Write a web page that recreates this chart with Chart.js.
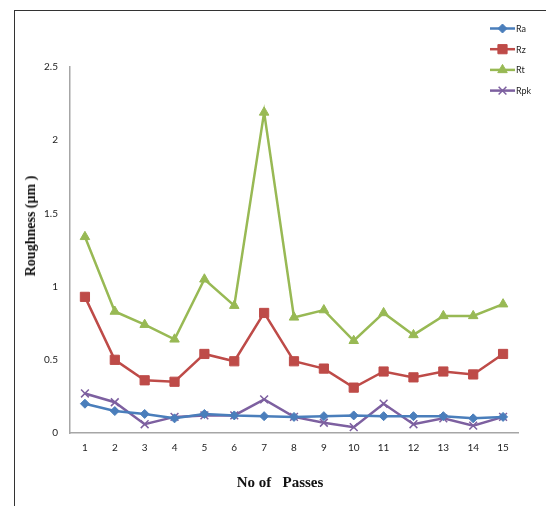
<!DOCTYPE html>
<html lang="en">
<head>
    <meta charset="UTF-8">
    <title>Roughness vs passes</title>
    <script src="https://cdn.jsdelivr.net/npm/chart.js@4.4.1/dist/chart.umd.min.js"></script>
    <style>
        body { margin: 0; background: #fff; }
        #wrap { position: relative; width: 546px; height: 506px; overflow: hidden; }
        #frame { position: absolute; left: 14px; top: 10px; width: 540px; height: 500px;
                 border-left: 1.5px solid #333; border-top: 1.5px solid #333; }
        #myCanvas { position: absolute; left: 0; top: 0; }
        .ttl { position: absolute; font-family: "Liberation Serif", serif; font-weight: bold;
               color: #111; white-space: pre; transform: translate(-50%, -50%); }
        #ytitle { left: 31px; top: 226px; font-size: 14px; transform: translate(-50%, -50%) rotate(-90deg); }
        #xtitle { left: 280px; top: 482px; font-size: 15px; }
    </style>
</head>
<body>
<div id="wrap">
    <div id="frame"></div>
    <canvas id="myCanvas" width="546" height="506"></canvas>
    <div class="ttl" id="ytitle">Roughness (µm )</div>
    <div class="ttl" id="xtitle">No of   Passes</div>
</div>
<script>
var passes = ['1','2','3','4','5','6','7','8','9','10','11','12','13','14','15'];
var ra  = [0.20, 0.15, 0.13, 0.10, 0.13, 0.12, 0.115, 0.11, 0.115, 0.12, 0.115, 0.115, 0.115, 0.10, 0.11];
var rz  = [0.93, 0.50, 0.36, 0.35, 0.54, 0.49, 0.82, 0.49, 0.44, 0.31, 0.42, 0.38, 0.42, 0.40, 0.54];
var rt  = [1.34, 0.83, 0.74, 0.64, 1.05, 0.87, 2.19, 0.79, 0.84, 0.63, 0.82, 0.67, 0.80, 0.80, 0.88];
var rpk = [0.27, 0.21, 0.06, 0.11, 0.12, 0.12, 0.23, 0.11, 0.07, 0.04, 0.20, 0.06, 0.10, 0.05, 0.11];
var yTicks = [0, 0.5, 1, 1.5, 2, 2.5];

function serie(label, data, color, style, radius) {
    return {
        label: label,
        data: data,
        borderColor: color,
        backgroundColor: color,
        borderWidth: 2.5,
        pointStyle: style,
        pointRadius: radius,
        pointHoverRadius: radius,
        pointBorderWidth: style === 'crossRot' ? 1.5 : 1,
        pointBorderColor: color,
        pointBackgroundColor: color,
        tension: 0
    };
}

// legend stacked in the top right corner, drawn with the datasets' own styles
var sideLegend = {
    id: 'sideLegend',
    afterDraw: function(chart) {
        var ctx = chart.ctx;
        chart.data.datasets.forEach(function(ds, i) {
            var y = 28.5 + i * 20.7;
            ctx.save();
            ctx.strokeStyle = ds.borderColor;
            ctx.fillStyle = ds.backgroundColor;
            ctx.lineWidth = 2.5;
            ctx.beginPath();
            ctx.moveTo(490, y);
            ctx.lineTo(515, y);
            ctx.stroke();
            ctx.lineWidth = ds.pointBorderWidth;
            Chart.helpers.drawPoint(ctx, {
                pointStyle: ds.pointStyle,
                radius: ds.pointRadius,
                borderWidth: ds.pointBorderWidth,
                rotation: 0
            }, 502.5, y);
            ctx.fillStyle = '#222';
            ctx.font = '9px Lato';
            ctx.textBaseline = 'middle';
            ctx.textAlign = 'left';
            ctx.fillText(ds.label, 516, y + 0.5);
            ctx.restore();
        });
    }
};

var ctx = document.getElementById('myCanvas').getContext('2d');
var myChart = new Chart(ctx, {
    type: 'line',
    data: {
        labels: passes,
        datasets: [
            serie('Ra', ra, '#4A7EBB', 'rectRot', 4.5),
            serie('Rz', rz, '#BE4B48', 'rect', 6.5),
            serie('Rt', rt, '#98B954', 'triangle', 5.5),
            serie('Rpk', rpk, '#7D60A0', 'crossRot', 5.5)
        ]
    },
    options: {
        responsive: false,
        animation: false,
        layout: { padding: { left: 14, right: 28, top: 67, bottom: 0 } },
        plugins: {
            legend: { display: false },
            tooltip: { enabled: false }
        },
        scales: {
            x: {
                offset: true,
                grid: { display: false, drawTicks: false },
                border: { display: true, color: '#A6A6A6', width: 1.5 },
                ticks: { color: '#222', padding: 9, font: { family: 'Lato', size: 10 }, maxRotation: 0 },
                afterFit: function(s) { s.height = 73; }
            },
            y: {
                min: 0,
                max: 2.5,
                afterBuildTicks: function(s) { s.ticks = yTicks.map(function(v) { return { value: v }; }); },
                grid: { display: false, drawTicks: false },
                border: { display: true, color: '#A6A6A6', width: 1.5 },
                ticks: {
                    color: '#222', padding: 12, font: { family: 'Lato', size: 10 },
                    callback: function(v) { return String(v); }
                },
                afterFit: function(s) { s.width = 56; }
            }
        }
    },
    plugins: [sideLegend]
});
</script>
</body>
</html>
